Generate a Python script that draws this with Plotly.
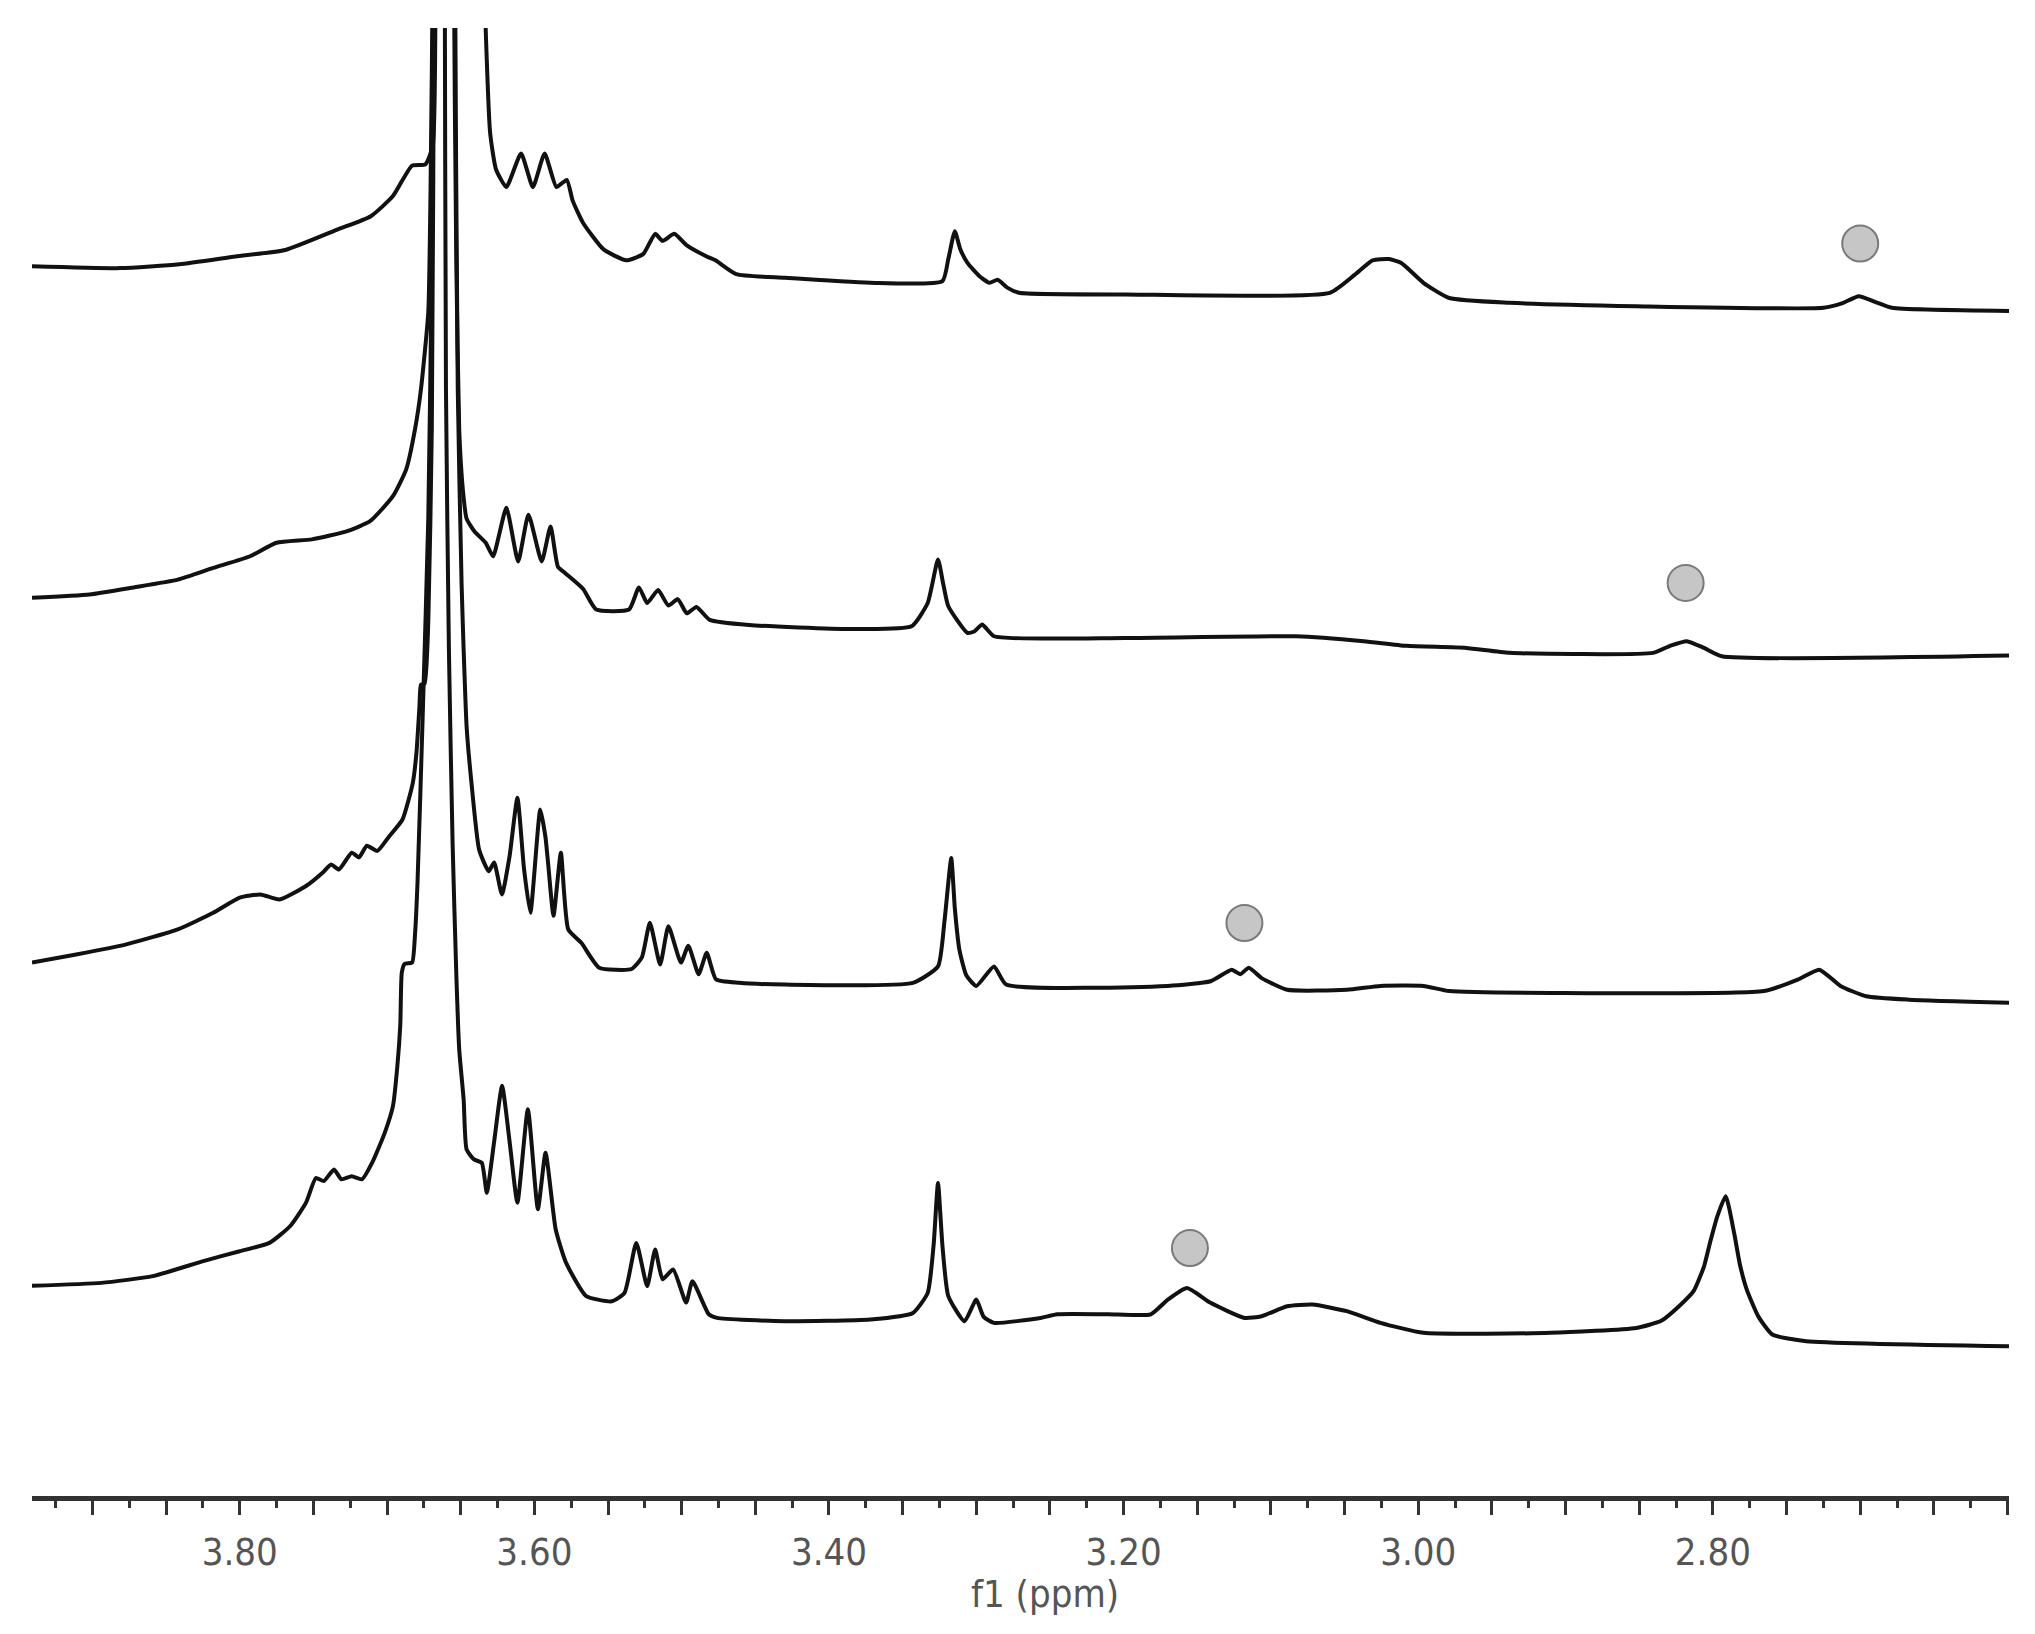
import plotly.graph_objects as go

# stacked 1H NMR traces, (ppm, intensity above the trace's own baseline)
spec_a = [(3.941, 34.5), (3.881, 33), (3.841, 36), (3.803, 42), (3.769, 47), (3.733, 63), (3.711, 73),
          (3.696, 88.5), (3.683, 112), (3.674, 113), (3.669, 127), (3.667, 260), (3.650, 3000), (3.634, 260),
          (3.633, 216), (3.630, 137), (3.626, 109), (3.619, 95.5), (3.609, 121.3), (3.601, 95.5), (3.593, 121.3),
          (3.585, 95.5), (3.578, 101), (3.574, 85), (3.567, 68), (3.553, 47.4), (3.5375, 39), (3.526, 44),
          (3.518, 59.4), (3.513, 54), (3.505, 59.4), (3.497, 51), (3.483, 42), (3.477, 39), (3.463, 28.4),
          (3.430, 25.5), (3.372, 21.7), (3.323, 23), (3.319, 40), (3.3146, 61.5), (3.311, 48), (3.306, 37),
          (3.298, 27), (3.291, 21.7), (3.2855, 24), (3.279, 18), (3.271, 14), (3.199, 12.7), (3.060, 14),
          (3.043, 28), (3.031, 39), (3.020, 40), (3.0115, 37), (2.9965, 21.7), (2.979, 10), (2.938, 6.3),
          (2.852, 3.7), (2.725, 2.4), (2.712, 6), (2.701, 11.4), (2.690, 7), (2.6785, 2.4), (2.599, 0)]

spec_b = [(3.941, 44), (3.902, 46.5), (3.872, 52), (3.842, 58), (3.818, 67), (3.793, 76), (3.775, 86.4),
          (3.751, 89), (3.727, 95.4), (3.7115, 103), (3.696, 122.3), (3.687, 143), (3.681, 174), (3.677, 204.5),
          (3.672, 264), (3.6705, 355), (3.669, 525), (3.659, 3000), (3.6546, 525), (3.653, 305), (3.651, 173.3),
          (3.6485, 127), (3.646, 105), (3.6406, 95), (3.633, 86.4), (3.628, 76), (3.619, 113.3), (3.611, 72),
          (3.604, 108), (3.595, 72), (3.589, 99), (3.584, 68), (3.579, 63), (3.567, 51), (3.558, 35),
          (3.5357, 35), (3.529, 52), (3.5234, 40), (3.516, 50), (3.509, 38), (3.5026, 43), (3.4965, 32),
          (3.490, 37), (3.481, 27), (3.454, 23), (3.386, 20), (3.344, 22), (3.333, 40), (3.326, 73.5),
          (3.3225, 55), (3.319, 37.5), (3.306, 17), (3.3014, 18), (3.296, 23.4), (3.288, 14.4), (3.199, 13.1),
          (3.083, 14.4), (3.037, 10.6), (3.008, 7), (2.9675, 5.4), (2.938, 1.6), (2.8406, 1.6), (2.829, 7),
          (2.8177, 10.6), (2.806, 5.4), (2.794, -1), (2.599, -0.5)]

spec_c = [(3.941, 31), (3.911, 37.2), (3.877, 45), (3.842, 56.5), (3.818, 69.3), (3.800, 81), (3.786, 83.5),
          (3.773, 79.6), (3.755, 90), (3.743, 101), (3.738, 106.6), (3.7327, 102.7), (3.724, 115.6), (3.719, 112),
          (3.7137, 121), (3.7066, 117), (3.6987, 128), (3.6895, 141.2), (3.6825, 169.5), (3.680, 193),
          (3.678, 228), (3.677, 245), (3.6745, 246), (3.672, 293), (3.6696, 443), (3.668, 793), (3.659, 3500),
          (3.6538, 793), (3.652, 473), (3.6494, 323), (3.648, 272.2), (3.646, 213), (3.6427, 169.5),
          (3.6375, 118), (3.631, 101.4), (3.6273, 108), (3.622, 83.5), (3.6168, 113), (3.6115, 158), (3.607, 103),
          (3.6027, 69.3), (3.596, 149), (3.5925, 128), (3.5907, 108), (3.587, 67), (3.582, 115.5), (3.577, 56.5),
          (3.568, 46), (3.556, 27), (3.534, 26), (3.527, 35), (3.5216, 61.6), (3.5146, 29.5), (3.509, 59),
          (3.5005, 31), (3.4955, 44), (3.4885, 22), (3.483, 38.5), (3.4767, 18), (3.461, 15.4), (3.430, 14),
          (3.343, 15.3), (3.326, 28), (3.3216, 63), (3.317, 111.6), (3.3146, 73), (3.3115, 41), (3.3067, 21),
          (3.300, 13), (3.288, 28), (3.2797, 14), (3.170, 13), (3.141, 16.6), (3.1266, 25.5), (3.1208, 22),
          (3.115, 27), (3.1063, 19), (3.089, 10), (3.0485, 10), (3.0256, 13), (2.9965, 13), (2.979, 9),
          (2.910, 7.6), (2.7654, 9), (2.742, 18), (2.7278, 25.5), (2.7134, 13), (2.696, 5), (2.667, 2.4),
          (2.599, 0)]

spec_d = [(3.941, 46), (3.894, 48.2), (3.859, 53.4), (3.8247, 65), (3.800, 72.6), (3.7798, 79), (3.7657, 92),
          (3.755, 110), (3.7483, 129), (3.743, 126.6), (3.736, 135.5), (3.731, 128), (3.724, 130.4), (3.717, 128),
          (3.710, 141), (3.7015, 164), (3.696, 184.3), (3.693, 215.2), (3.691, 247), (3.690, 287), (3.688, 294),
          (3.683, 295), (3.681, 317), (3.6793, 357), (3.6758, 485), (3.672, 637), (3.6696, 837), (3.668, 1057),
          (3.664, 4000), (3.6608, 1057), (3.660, 737), (3.658, 536), (3.6555, 387), (3.653, 287), (3.651, 228),
          (3.648, 189.5), (3.646, 151), (3.641, 143.3), (3.6357, 140.7), (3.6323, 117.6), (3.6273, 157),
          (3.6219, 200), (3.6168, 157), (3.6115, 110), (3.6044, 182), (3.5976, 105), (3.5924, 148.4),
          (3.5855, 89.3), (3.5786, 64), (3.5648, 38), (3.5474, 34), (3.5388, 40.5), (3.5308, 79), (3.5234, 45.7),
          (3.518, 74), (3.513, 51), (3.5058, 58.5), (3.497, 33), (3.4927, 49.5), (3.4816, 24), (3.476, 21.2),
          (3.430, 18.6), (3.372, 20), (3.343, 25), (3.333, 40.5), (3.329, 77), (3.326, 125.2), (3.323, 77),
          (3.319, 38), (3.308, 18.6), (3.300, 35.3), (3.295, 22), (3.288, 17.4), (3.2564, 21.2), (3.245, 24),
          (3.2104, 24), (3.1816, 24), (3.170, 35.3), (3.157, 44.3), (3.141, 32.8), (3.118, 21.2), (3.1063, 22.5),
          (3.089, 30.2), (3.0717, 31.5), (3.0485, 26.4), (3.0256, 17.4), (2.9965, 9.7), (2.910, 9.7),
          (2.852, 13.5), (2.835, 19), (2.823, 30.2), (2.813, 42), (2.806, 61), (2.802, 79), (2.797, 99.5),
          (2.7913, 115), (2.7856, 86.7), (2.7816, 62), (2.777, 43), (2.769, 22), (2.7596, 8.4), (2.7366, 3.3),
          (2.599, -0.6)]

# vertical offset of each trace in the stack (top to bottom)
offsets = [913, 648, 380, 116]

# grey dots marking the signal of interest in each trace
marker_ppm = [2.700, 2.8185, 3.118, 3.155]
marker_int = [52, 55.5, 61.5, 75]

major_ticks = [round(2.60 + 0.05 * k, 2) for k in range(27)]
minor_ticks = [round(2.625 + 0.05 * k, 3) for k in range(27)]
tick_text = [f"{v:.2f}" if round(v * 100) % 20 == 0 and 2.7 < v < 3.9 else "" for v in major_ticks]

fig = go.Figure()
for spec, off in zip([spec_a, spec_b, spec_c, spec_d], offsets):
    fig.add_trace(go.Scatter(
        x=[p for p, _ in spec], y=[off + i for _, i in spec],
        mode="lines", line=dict(color="#111111", width=4, shape="spline", smoothing=0.5),
        hoverinfo="skip"))

fig.add_trace(go.Scatter(
    x=marker_ppm, y=[o + m for o, m in zip(offsets, marker_int)], mode="markers",
    marker=dict(size=36, color="#c6c6c6", line=dict(color="#7a7a7a", width=2))))

axis_font = dict(family="Liberation Sans Narrow, Arial Narrow, DejaVu Sans Condensed, sans-serif",
                 size=38, color="#555555")

# the page body adds an 8px margin, so the figure is drawn 8px smaller
fig.update_layout(
    width=2027, height=1626,
    margin=dict(l=24, r=26, t=20, b=138),
    paper_bgcolor="white", plot_bgcolor="white",
    showlegend=False,
    xaxis=dict(
        range=[3.941, 2.599], showgrid=False, zeroline=False,
        showline=True, linewidth=5, linecolor="#333333",
        tickmode="array", tickvals=major_ticks, ticktext=tick_text,
        ticks="outside", ticklen=14, tickwidth=3, tickcolor="#333333",
        ticklabelstandoff=4, tickfont=axis_font,
        minor=dict(tickmode="array", tickvals=minor_ticks, ticks="outside",
                   ticklen=7, tickwidth=3, tickcolor="#333333", showgrid=False),
    ),
    yaxis=dict(visible=False, range=[0, 1131], fixedrange=True),
    annotations=[dict(text="f1 (ppm)", xref="paper", yref="paper", x=0.5124, y=0,
                      yshift=-98, showarrow=False, font=axis_font,
                      xanchor="center", yanchor="middle")],
)

fig.write_html("out.html")
